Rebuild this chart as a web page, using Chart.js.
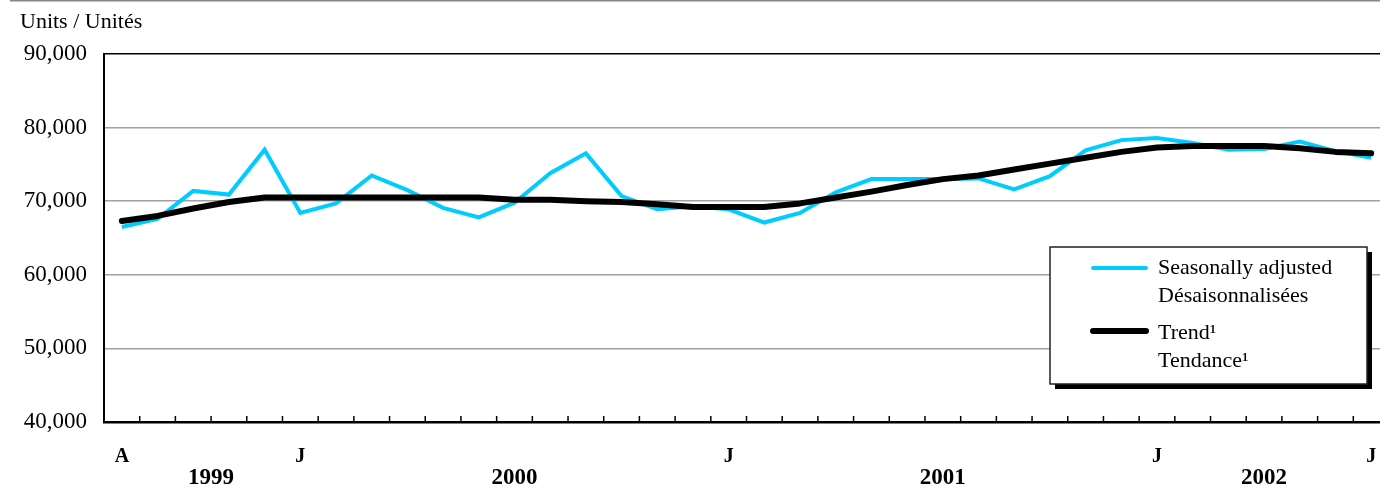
<!DOCTYPE html>
<html>
<head>
<meta charset="utf-8">
<script src="https://cdn.jsdelivr.net/npm/chart.js@4.4.1/dist/chart.umd.min.js"></script>
<style>
  html, body { margin: 0; padding: 0; background: #fff; }
  #wrap { width: 1380px; height: 487px; overflow: hidden; position: relative; }
  canvas { display: block; }
</style>
</head>
<body>
<div id="wrap"><canvas id="chart" width="1389" height="487"></canvas></div>
<script>
// Aug 1999 .. Jul 2002, monthly
const months = ['A','S','O','N','D',
  'J','F','M','A','M','J','J','A','S','O','N','D',
  'J','F','M','A','M','J','J','A','S','O','N','D',
  'J','F','M','A','M','J','J'];
const shownTicks = [0, 5, 17, 29, 35];
const years = ['1999', '2000', '2001', '2002'];
const yearStarts = [0, 5, 17, 29];
const yearEnds = [5, 17, 29, 35];

const seasonal = [66500, 67600, 71400, 70900, 77000, 68400, 69700, 73500, 71500, 69100, 67800, 69800,
                  73800, 76500, 70700, 68900, 69300, 68900, 67100, 68400, 71200, 73000, 73000, 73000,
                  73100, 71600, 73400, 76900, 78300, 78600, 77900, 77000, 77100, 78100, 76800, 75900];
const trend = [67300, 68000, 69000, 69900, 70500, 70500, 70500, 70500, 70500, 70500, 70500, 70200,
               70200, 70000, 69900, 69600, 69200, 69200, 69200, 69700, 70500, 71300, 72200, 73000,
               73500, 74300, 75100, 75900, 76700, 77300, 77500, 77500, 77500, 77200, 76700, 76500];

const yTicks = [40000, 50000, 60000, 70000, 80000, 90000];

const serif = '"Liberation Serif", "Times New Roman", serif';
const cyan = '#00ccff';

const extras = {
  id: 'extras',
  afterDraw(chart) {
    const ctx = chart.ctx;
    const x = chart.scales.x;
    const area = chart.chartArea;
    ctx.save();

    // top rule
    ctx.strokeStyle = '#888';
    ctx.lineWidth = 1.5;
    ctx.beginPath();
    ctx.moveTo(10, 0.75);
    ctx.lineTo(chart.width, 0.75);
    ctx.stroke();

    // unit title
    ctx.fillStyle = '#000';
    ctx.font = '22px ' + serif;
    ctx.textBaseline = 'middle';
    ctx.textAlign = 'left';
    ctx.fillText('Units / Unités', 20, 22);

    // tick marks between months, pointing up into the plot
    ctx.strokeStyle = '#000';
    ctx.lineWidth = 1.5;
    ctx.beginPath();
    for (let k = 1; k < months.length; k++) {
      const px = (x.getPixelForValue(k - 1) + x.getPixelForValue(k)) / 2;
      ctx.moveTo(px, area.bottom);
      ctx.lineTo(px, area.bottom - 6);
    }
    ctx.stroke();

    // year labels
    ctx.font = 'bold 23px ' + serif;
    ctx.textAlign = 'center';
    years.forEach((yr, i) => {
      const cx = (x.getPixelForValue(yearStarts[i]) + x.getPixelForValue(yearEnds[i])) / 2;
      ctx.fillText(yr, cx, 478);
    });

    // legend box with shadow
    const bx = 1050, by = 247, bw = 317, bh = 137;
    ctx.fillStyle = '#000';
    ctx.fillRect(bx + 5, by + 5, bw, bh);
    ctx.fillStyle = '#fff';
    ctx.fillRect(bx, by, bw, bh);
    ctx.strokeStyle = '#222';
    ctx.lineWidth = 1.5;
    ctx.strokeRect(bx, by, bw, bh);

    const ds = chart.data.datasets;
    ctx.lineCap = 'round';
    ctx.strokeStyle = ds[1].borderColor;
    ctx.lineWidth = ds[1].borderWidth;
    ctx.beginPath();
    ctx.moveTo(1093, 268);
    ctx.lineTo(1146, 268);
    ctx.stroke();
    ctx.strokeStyle = ds[0].borderColor;
    ctx.lineWidth = ds[0].borderWidth;
    ctx.beginPath();
    ctx.moveTo(1093, 331);
    ctx.lineTo(1146, 331);
    ctx.stroke();

    ctx.fillStyle = '#000';
    ctx.font = '22px ' + serif;
    ctx.textAlign = 'left';
    ctx.fillText('Seasonally adjusted', 1158, 268);
    ctx.fillText('Désaisonnalisées', 1158, 296);
    ctx.fillText('Trend¹', 1158, 333);
    ctx.fillText('Tendance¹', 1158, 361);
    ctx.restore();
  }
};

new Chart(document.getElementById('chart'), {
  type: 'line',
  data: {
    labels: months,
    datasets: [{
      label: 'Trend¹ / Tendance¹',
      data: trend,
      borderColor: '#000',
      borderWidth: 6,
      borderCapStyle: 'round',
      borderJoinStyle: 'round',
      pointRadius: 0,
      tension: 0,
      order: 0
    }, {
      label: 'Seasonally adjusted / Désaisonnalisées',
      data: seasonal,
      borderColor: cyan,
      borderWidth: 4,
      borderJoinStyle: 'miter',
      pointRadius: 0,
      tension: 0,
      order: 1
    }]
  },
  options: {
    responsive: false,
    devicePixelRatio: 1,
    animation: false,
    layout: { padding: { top: 54, left: 0, right: 0, bottom: 0 } },
    plugins: {
      legend: { display: false },
      tooltip: { enabled: false }
    },
    scales: {
      x: {
        offset: true,
        grid: { display: false, drawTicks: true, tickLength: 23 },
        border: { display: true, color: '#000', width: 2.5 },
        ticks: {
          autoSkip: false,
          maxRotation: 0,
          padding: 0,
          color: '#000',
          font: { family: serif, size: 20, weight: 'bold' },
          callback: (v, i) => shownTicks.includes(i) ? months[i] : ''
        },
        afterFit: (s) => { s.height = 65; }
      },
      y: {
        min: yTicks[0],
        max: yTicks[yTicks.length - 1],
        afterBuildTicks: (s) => { s.ticks = yTicks.map(v => ({ value: v })); },
        grid: {
          drawTicks: false,
          color: (c) => (c.tick && c.tick.value === 90000) ? '#000' : '#a0a0a0',
          lineWidth: 1.5
        },
        border: { display: true, color: '#000', width: 2 },
        ticks: {
          padding: 17,
          color: '#000',
          font: { family: serif, size: 23 },
          callback: (v) => v.toLocaleString('en-US')
        },
        afterFit: (s) => { s.width = 104; }
      }
    }
  },
  plugins: [extras]
});
</script>
</body>
</html>
